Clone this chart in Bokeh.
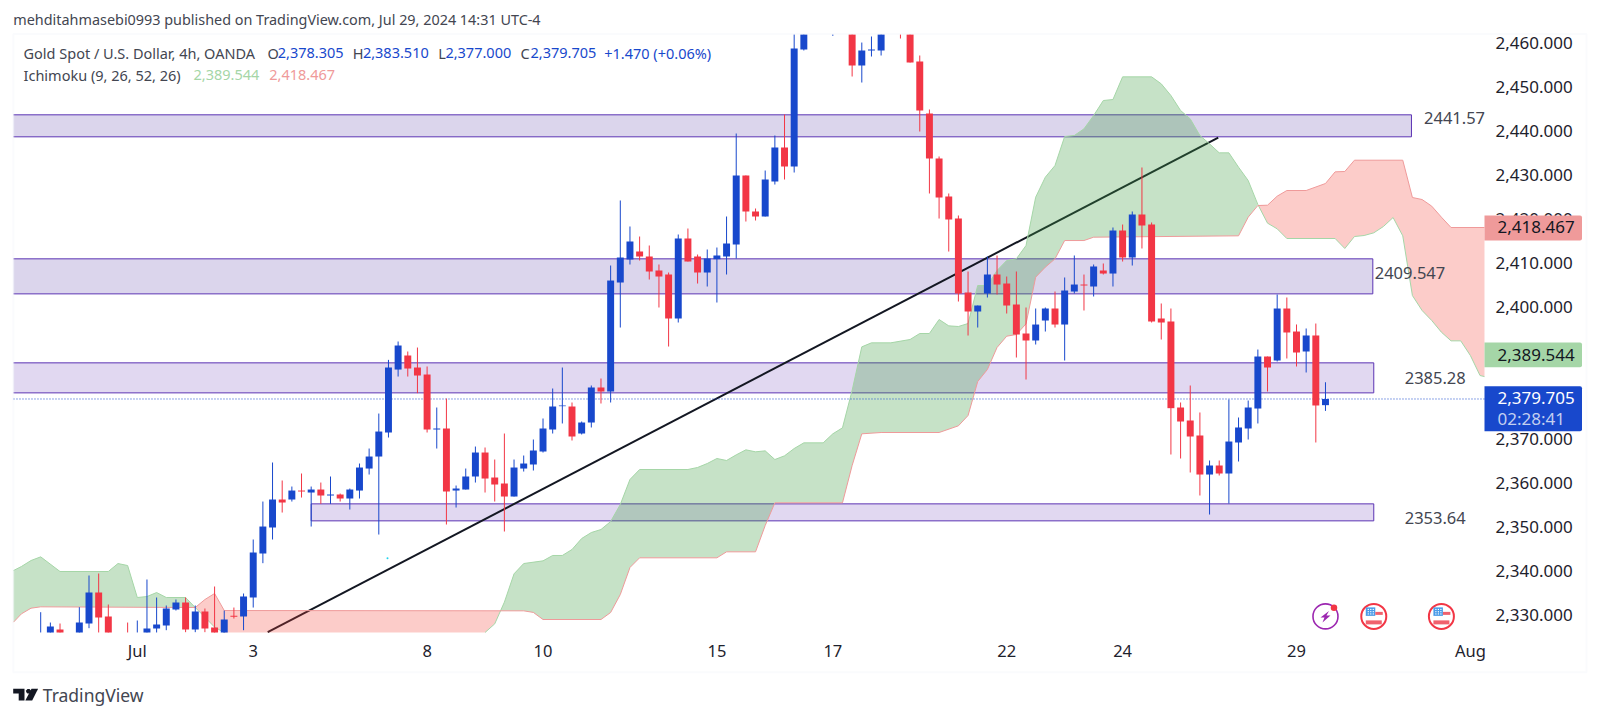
from bokeh.plotting import figure
from bokeh.models import Range1d, FixedTicker, LinearAxis, Label, BoxAnnotation, PolyAnnotation, NumeralTickFormatter
from bokeh.embed import file_html
from bokeh.resources import INLINE

# ---------- data ----------
opens = [2324.45,2325.57,2327.31,2325.0,2325.57,2328.68,2335.72,2330.27,2325.2,2325.57,2324.85,2325.57,2327.54,2328.22,2331.86,2333.45,2327.31,2331.4,2327.77,2325.57,
 2330.42,2330.27,2334.59,2344.59,2350.5,2356.86,2356.86,2358.9,2358.45,2359.13,2357.77,2358.0,2357.09,2358.9,2363.9,2366.63,2372.09,2386.4,2389.59,2386.86,
 2385.27,2372.77,2373.0,2358.9,2359.13,2362.09,2367.54,2361.86,2360.5,2357.54,2363.9,2364.82,2367.77,2372.77,2378.07,2378.0,2371.86,2374.36,2382.32,2381.41,
 2406.18,2411.41,2413.22,2412.09,2408.91,2408.0,2398.0,2416.18,2412.09,2408.45,2411.48,2412.09,2414.82,2430.5,2422.32,2421.18,2429.13,2436.86,2432.54,2459.13,
 2466.0,2472.0,2465.0,2470.0,2470.0,2455.5,2458.91,2458.91,2472.0,2470.0,2470.0,2456.41,2444.59,2434.36,2425.72,2420.72,2403.91,2399.59,2403.68,2408.0,
 2405.95,2401.18,2394.59,2393.0,2397.54,2400.27,2396.63,2404.13,2405.72,2405.27,2408.91,2408.22,2418.0,2411.86,2421.63,2419.36,2398.0,2397.32,2377.77,2374.82,
 2371.41,2362.54,2364.59,2362.77,2369.82,2373.0,2377.54,2389.36,2388.45,2400.27,2395.04,2390.5,2394.14,2378.305]
highs = [2331.25,2328.9,2328.68,2326.0,2332.39,2339.59,2340.04,2333.0,2326.0,2328.9,2329.36,2338.68,2334.59,2332.77,2334.13,2334.59,2332.77,2332.09,2337.09,2331.63,
 2332.31,2335.5,2347.77,2356.4,2365.27,2361.18,2359.81,2362.77,2359.81,2360.72,2362.09,2358.22,2359.36,2365.04,2368.45,2376.4,2388.6,2392.77,2390.5,2391.4,
 2387.09,2377.77,2379.81,2360.04,2363.9,2368.9,2368.68,2365.95,2371.86,2365.95,2366.86,2370.5,2375.27,2382.09,2386.86,2378.91,2374.59,2382.77,2384.36,2410.04,
 2424.82,2418.91,2416.63,2414.59,2410.27,2408.45,2417.09,2418.45,2412.54,2413.68,2414.13,2421.18,2440.04,2430.5,2423.0,2431.63,2439.59,2444.36,2463.45,2467.24,
 2474.0,2477.0,2472.0,2472.0,2472.0,2460.72,2462.09,2470.0,2475.0,2472.0,2471.0,2457.77,2445.5,2434.82,2426.41,2421.41,2408.68,2400.95,2412.09,2412.32,
 2407.54,2408.68,2400.5,2400.27,2400.5,2404.13,2407.32,2412.32,2407.99,2410.27,2410.5,2418.68,2419.36,2422.32,2432.32,2419.82,2401.41,2400.27,2378.91,2382.77,
 2376.64,2365.73,2365.73,2379.59,2375.5,2379.36,2390.95,2389.36,2403.45,2402.77,2396.64,2395.73,2396.86,2383.51]
lows = [2323.3,2324.85,2324.85,2323.5,2324.85,2327.62,2325.57,2324.85,2323.6,2324.05,2324.05,2324.85,2326.33,2327.16,2331.63,2326.71,2326.71,2326.71,2324.85,2324.85,
 2329.81,2327.16,2332.31,2342.39,2347.77,2353.9,2356.4,2357.31,2350.72,2355.87,2355.87,2356.4,2354.59,2357.09,2362.54,2348.9,2370.95,2384.81,2384.81,2381.03,
 2372.09,2368.45,2351.18,2355.04,2359.13,2360.72,2358.45,2356.4,2349.59,2357.54,2363.22,2363.45,2367.54,2371.86,2374.14,2370.27,2371.64,2373.23,2378.68,2378.91,
 2395.95,2410.27,2411.18,2406.86,2400.5,2391.63,2397.09,2410.95,2405.95,2405.27,2401.63,2408.0,2411.63,2420.04,2420.27,2421.18,2428.45,2429.59,2431.18,2458.91,
 2464.0,2469.0,2462.24,2463.0,2453.0,2451.63,2457.54,2457.77,2466.0,2461.63,2456.18,2440.5,2426.41,2420.72,2413.22,2401.86,2394.13,2395.95,2402.77,2403.45,
 2399.13,2389.13,2384.13,2392.09,2395.04,2395.95,2388.45,2403.68,2399.82,2403.0,2408.0,2405.27,2410.95,2410.04,2413.91,2397.09,2393.22,2367.09,2366.18,2363.0,
 2357.77,2353.45,2362.32,2355.95,2365.5,2370.5,2374.14,2381.41,2388.23,2388.91,2387.09,2385.73,2369.82,2377.0]
closes = [2325.57,2328.0,2325.57,2324.2,2328.9,2335.72,2330.04,2325.57,2324.4,2324.85,2325.95,2327.54,2328.45,2332.09,2333.45,2327.31,2331.4,2327.54,2325.57,2329.59,
 2330.19,2334.81,2344.81,2350.72,2356.86,2356.18,2358.9,2358.68,2359.13,2357.77,2358.0,2357.09,2359.13,2364.13,2366.63,2372.31,2386.86,2391.86,2386.63,2385.04,
 2372.77,2373.0,2358.68,2359.36,2362.09,2367.54,2361.63,2360.27,2357.54,2364.13,2365.04,2368.0,2373.0,2378.0,2378.23,2371.18,2374.36,2382.32,2381.41,2406.63,
 2411.86,2415.5,2412.09,2408.68,2407.54,2398.0,2416.18,2410.95,2408.45,2411.63,2412.32,2415.04,2430.5,2422.32,2421.18,2429.59,2436.86,2432.54,2459.36,2465.72,
 2472.0,2475.0,2470.0,2467.0,2455.5,2458.91,2459.13,2468.0,2468.0,2465.0,2456.18,2445.27,2434.36,2425.5,2420.5,2403.68,2399.59,2400.95,2408.0,2405.72,
 2400.95,2394.36,2393.0,2396.63,2400.27,2396.63,2404.36,2405.72,2405.5,2409.82,2408.22,2418.0,2411.86,2421.63,2419.13,2397.32,2397.09,2377.62,2374.59,2371.18,
 2362.54,2364.59,2362.77,2370.04,2373.23,2377.77,2389.36,2386.86,2400.27,2394.82,2390.27,2394.14,2378.23,2379.705]

span_a_bar = [-3,-2,-1,0,2,7,8,9,10,11,12,13,15,16,17,18,19,20,45,46,47,48,49,50,52,53,54,55,56,57,58,59,60,61,62,67,68,69,70,71,72,73,74,75,76,77,78,79,81,82,83,84,85,86,88,90,91,92,93,94,95,96,97,98,99,100,101,102,103,104,105,106,107,108,109,110,111,112,115,116,117,118,119,120,121,122,123,124,125,126,127,128,129,134,135,136,137,138,139,140,141,142,143,144,145,146,147,148,149,150]
span_a = [2340.72,2341.63,2343.0,2343.83,2340.5,2340.5,2342.31,2341.86,2334.59,2334.81,2335.72,2334.59,2334.59,2332.31,2330.12,2327.85,2324.0,2322.0,2322.0,2323.9,2328.6,2333.53,2339.97,2342.31,2342.92,2344.14,2344.14,2345.5,2348.0,2349.36,2350.04,2351.86,2355.73,2361.41,2363.68,2363.68,2364.14,2365.04,2366.18,2365.73,2367.01,2368.15,2367.7,2367.92,2365.95,2366.79,2368.45,2369.74,2369.74,2371.79,2373.15,2381.64,2391.56,2392.47,2392.47,2393.23,2394.59,2394.59,2397.77,2396.33,2396.18,2396.86,2405.5,2405.5,2408.91,2411.18,2411.56,2414.59,2425.57,2430.12,2432.77,2439.36,2439.59,2441.1,2444.13,2447.54,2447.77,2452.92,2452.92,2451.33,2448.68,2445.27,2443.37,2439.59,2437.69,2435.65,2435.65,2432.39,2429.36,2423.91,2419.67,2418.38,2416.18,2416.18,2413.91,2416.63,2416.86,2417.47,2418.91,2420.95,2416.79,2403.22,2399.82,2397.54,2394.89,2392.92,2392.92,2389.59,2385.04,2384.8]
span_b_bar = [-3,-2,-1,0,16,17,18,19,50,51,52,58,59,60,61,62,70,71,74,75,76,83,84,85,87,93,95,96,97,98,99,100,101,102,103,104,105,106,108,109,124,125,126,127,128,129,131,133,134,135,136,141,142,143,144,145,146,150]
span_b = [2328.98,2330.87,2332.16,2332.47,2332.31,2334.13,2335.5,2331.63,2331.56,2331.2,2329.59,2329.59,2331.18,2335.27,2341.41,2343.61,2343.61,2344.97,2344.97,2350.95,2356.11,2356.11,2364.59,2371.79,2372.09,2372.09,2373.61,2375.95,2383.68,2386.41,2391.41,2393.98,2394.36,2396.79,2407.39,2409.67,2411.56,2415.72,2415.72,2416.48,2416.79,2421.03,2423.68,2423.75,2425.8,2427.09,2427.09,2428.68,2431.33,2431.41,2433.98,2433.98,2425.5,2425.04,2423.53,2421.03,2418.68,2418.68]
cross_bar = [-3, 16, 47.6, 126, 150]
cross_price = [None, 2332.31, 2331.56, 2423.8, None]

zone_top = [2444.29, 2411.56, 2387.92, 2355.87]
zone_bottom = [2439.29, 2403.6, 2381.1, 2352.01]
zone_start = [-2.816, -2.816, -2.816, 28]
zone_end = [141.9, 137.9, 138, 138]
zone_text = ["2441.57", "2409.547", "2385.28", "2353.64"]
zone_text_bar = [143.2, 138.1, 141.2, 141.2]
zone_text_price = [2443.5, 2408.3, 2384.4, 2352.55]

trend_bar = [23.5, 121.9]
trend_price = [2326.7, 2439.13]
last_close = 2379.705
ichi_a_last = 2389.544
ichi_b_last = 2418.467

x_tick_bars = [10, 22, 40, 52, 70, 82, 100, 112, 130, 148]
x_tick_labels = ["Jul", "3", "8", "10", "15", "17", "22", "24", "29", "Aug"]
y_ticks = [2330, 2340, 2350, 2360, 2370, 2380, 2390, 2400, 2410, 2420, 2430, 2440, 2450, 2460]

event_bar = [133, 138, 145]
event_price = 2330.3

# ---------- styles ----------
BLUE, RED = "#1848cc", "#f23645"
FONT = "Noto Sans"
INK = "#1e222d"
GREY = "#434651"
ZONE_LINE = "#5b33b3"
zone_fill = ["#4b2da0", "#4b2da0", "#673ab7", "#673ab7"]

# the price pane: what the chart shows inside the TradingView frame
PANE_LEFT, PANE_RIGHT = -2.816, 149.46
PANE_BOTTOM, PANE_TOP = 2326.64, 2462.55
def cy(v): return min(max(v, PANE_BOTTOM), PANE_TOP)
def cx(v): return min(max(v, PANE_LEFT), PANE_RIGHT)

W, H = 1590, 712
def sx(px): return px
def sy(py): return H - py

# the frame of the figure covers the page, so that texts around the pane are not cut off
p = figure(width=W, height=H, output_backend="svg", toolbar_location=None,
           x_range=Range1d(-40.2 / 9.66, (W - 40.2) / 9.66),
           y_range=Range1d(2460 - (H - 45.2) / 4.4, 2460 + 45.2 / 4.4),
           min_border=0, x_axis_location=None, y_axis_location=None,
           background_fill_color="white", border_fill_color="white")
p.outline_line_color = None
p.grid.visible = False

# tick labels sit slightly above the tick position in the reference
p.extra_y_ranges["labels"] = Range1d(p.y_range.start - 0.65, p.y_range.end - 0.65)

xaxis = LinearAxis(ticker=FixedTicker(ticks=x_tick_bars), fixed_location=PANE_BOTTOM + 0.2)
xaxis.major_label_overrides = dict(zip(x_tick_bars, x_tick_labels))
p.add_layout(xaxis, "below")
yaxis = LinearAxis(ticker=FixedTicker(ticks=y_ticks), formatter=NumeralTickFormatter(format="0,0.000"),
                   fixed_location=PANE_RIGHT, y_range_name="labels")
p.add_layout(yaxis, "right")
for ax in (xaxis, yaxis):
    ax.axis_line_color = None
    ax.major_tick_line_color = None
    ax.minor_tick_line_color = None
    ax.major_label_text_font = FONT
    ax.major_label_text_color = INK
xaxis.major_label_text_font_size = "16.5px"
xaxis.major_label_standoff = 1
yaxis.major_label_text_font_size = "17px"
yaxis.major_label_standoff = 5

# zones: fill, then top and bottom edges, right edge, and a left edge only where the zone starts inside the pane
p.quad(left=zone_start, right=zone_end, top=zone_top, bottom=zone_bottom,
       fill_color=zone_fill, fill_alpha=0.2, line_color=None)
for l, r, t, b in zip(zone_start, zone_end, zone_top, zone_bottom):
    xs = [l, r, r, l] + ([l] if l > PANE_LEFT else [])
    ys = [t, t, b, b] + ([t] if l > PANE_LEFT else [])
    p.line(xs, ys, line_color=ZONE_LINE, line_width=1)
p.line(trend_bar, trend_price, line_color="#131722", line_width=2)

def part(bars, vals, lo, hi):
    return [(b, v) for b, v in zip(bars, vals) if lo < b < hi]
for k in range(4):
    lo, hi = cross_bar[k], cross_bar[k + 1]
    a = part(span_a_bar, span_a, lo, hi)
    b = part(span_b_bar, span_b, lo, hi)
    if lo == -3:
        a = [(-3, span_a[0])] + a
        b = [(-3, span_b[0])] + b
    if hi == 150:
        a = a + [(150, span_a[-1])]
        b = b + [(150, span_b[-1])]
    start = [] if cross_price[k] is None else [(lo, cross_price[k])]
    end = [] if cross_price[k + 1] is None else [(hi, cross_price[k + 1])]
    poly = start + a + end + b[::-1]
    green = k in (0, 2)
    p.patch([cx(q[0]) for q in poly], [cy(q[1]) for q in poly],
            fill_color="#43a047" if green else "#f44336", fill_alpha=0.3 if green else 0.27, line_color=None)

def pane_line(bars, vals):
    xs, ys = [], []
    for j, (b, v) in enumerate(zip(bars, vals)):
        near_inside = (j > 0 and vals[j - 1] >= PANE_BOTTOM) or (j + 1 < len(vals) and vals[j + 1] >= PANE_BOTTOM)
        xs.append(cx(b))
        ys.append(v if v >= PANE_BOTTOM else (PANE_BOTTOM if near_inside else float("nan")))
    return xs, ys
xa, ya = pane_line(span_a_bar, span_a)
xb, yb = pane_line(span_b_bar, span_b)
p.line(xa, ya, line_color="#a5d6a7", line_width=1)
p.line(xb, yb, line_color="#ef9a9a", line_width=1)

p.line([PANE_LEFT, PANE_RIGHT], [last_close, last_close], line_color=BLUE, line_width=1, line_dash="1 2")

idx = list(range(len(opens)))
cols = [BLUE if c >= o else RED for o, c in zip(opens, closes)]
p.segment(idx, [cy(v) for v in highs], idx, [cy(v) for v in lows], line_color=cols, line_width=1)
p.vbar(x=idx, top=[cy(max(o, c)) for o, c in zip(opens, closes)], bottom=[cy(min(o, c)) for o, c in zip(opens, closes)],
       width=0.72, fill_color=cols, line_color=None)

p.scatter([35.9], [2343.5], size=2, color="#22d3ee", line_color=None)

PX, PY = 1 / 9.66, 1 / 4.4
def ex(b, dx): return [b + d * PX for d in dx]
def ey(dy): return [event_price - d * PY for d in dy]
p.scatter([event_bar[0]], [event_price], size=25, fill_color="white", line_color="#9c27b0", line_width=1.6)
p.scatter(event_bar[1:], [event_price] * 2, size=25, fill_color="white", line_color="#f23645", line_width=2)
p.scatter([event_bar[0] + 8.5 * PX], [event_price + 8.7 * PY], size=6.5, color="#f23645", line_color=None)
p.patch(ex(event_bar[0], [3.5, -5, -1, -3, 5, 1]), ey([-5.5, 1, 1, 6, -1, -1]), fill_color="#9c27b0", line_color=None)
for b in event_bar[1:]:
    p.quad(left=[b - 8 * PX], right=[b + 1.5 * PX], top=[event_price + 9 * PY], bottom=[event_price + 0.5 * PY], fill_color="#4a9be8", line_color=None)
    p.quad(left=[b + 1.5 * PX], right=[b + 9 * PX], top=[event_price + 4.5 * PY], bottom=[event_price + 1.5 * PY], fill_color="#f0616d", line_color=None)
    p.quad(left=[b - 8 * PX], right=[b + 8 * PX], top=[event_price - 4 * PY], bottom=[event_price - 8 * PY], fill_color="#f0616d", line_color=None)
    p.scatter([b - 5.5 * PX, b - 3 * PX, b - 0.5 * PX] * 3,
              [event_price + d * PY for d in (7, 7, 7, 4.7, 4.7, 4.7, 2.5, 2.5, 2.5)],
              size=1.4, color="white", line_color=None)

p.add_layout(BoxAnnotation(left=sx(12.9), right=sx(1586), top=sy(33.6), bottom=sy(671.8),
                           left_units="screen", right_units="screen", top_units="screen", bottom_units="screen",
                           fill_alpha=0, line_color="#f0f3fa", line_width=2))

def tag(top, bottom, colour):
    p.add_layout(BoxAnnotation(left=sx(1484), right=sx(1581.5), top=sy(top), bottom=sy(bottom),
                               left_units="screen", right_units="screen", top_units="screen", bottom_units="screen",
                               fill_color=colour, fill_alpha=1, line_alpha=0, border_radius=(0, 2, 2, 0)))
tag(215, 240, "#ef9a9a")
tag(342, 366.7, "#a5d6a7")
tag(385.7, 430.7, BLUE)

def text(t, x, y, size, colour):
    p.add_layout(Label(x=sx(x), y=sy(y), x_units="screen", y_units="screen", text=t, text_font=FONT,
                       text_font_size=f"{size}px", text_color=colour, text_baseline="middle"))
text(f"{ichi_b_last:,.3f}", 1497, 226.5, 17, "#131722")
text(f"{ichi_a_last:,.3f}", 1497, 354, 17, "#131722")
text(f"{last_close:,.3f}", 1497, 397.7, 17, "white")
text("02:28:41", 1497, 417.7, 17, "#c3cff0")

for t, b, v in zip(zone_text, zone_text_bar, zone_text_price):
    p.add_layout(Label(x=b, y=v, text=t, text_font=FONT, text_font_size="16.5px", text_color=GREY, text_baseline="middle"))

text("mehditahmasebi0993 published on TradingView.com, Jul 29, 2024 14:31 UTC-4", 12.8, 19.2, 14.4, GREY)
text("Gold Spot / U.S. Dollar, 4h, OANDA", 23, 52.8, 14.5, GREY)
text("O", 267, 52.8, 14.5, GREY); text("2,378.305", 277.2, 52.8, 14.5, BLUE)
text("H", 352.3, 52.8, 14.5, GREY); text("2,383.510", 362.4, 52.8, 14.5, BLUE)
text("L", 437.8, 52.8, 14.5, GREY); text("2,377.000", 444.9, 52.8, 14.5, BLUE)
text("C", 520, 52.8, 14.5, GREY); text("2,379.705", 530, 52.8, 14.5, BLUE)
text("+1.470 (+0.06%)", 603.7, 52.8, 14.5, BLUE)
text("Ichimoku (9, 26, 52, 26)", 23, 74.7, 14.5, GREY)
text("2,389.544", 193, 74.7, 14.5, "#a5d6a7")
text("2,418.467", 268.8, 74.7, 14.5, "#ef9a9a")
text("TradingView", 42.3, 694, 17.5, GREY)

def poly(xs, ys):
    p.add_layout(PolyAnnotation(xs=[sx(v) for v in xs], ys=[sy(v) for v in ys], xs_units="screen", ys_units="screen",
                                fill_color="#131722", fill_alpha=1, line_alpha=0))
poly([12.7, 24, 24, 18.2, 18.2, 12.7], [688.3, 688.3, 700, 700, 693, 693])
poly([25.6, 27, 29, 30.4, 30.4, 29, 27, 25.6], [690, 688.4, 688.4, 690, 691.6, 693, 693, 691.6])
poly([31, 37.6, 31.7, 24.8], [688.3, 688.3, 700, 700])

open("out.html", "w").write(file_html(p, INLINE))
